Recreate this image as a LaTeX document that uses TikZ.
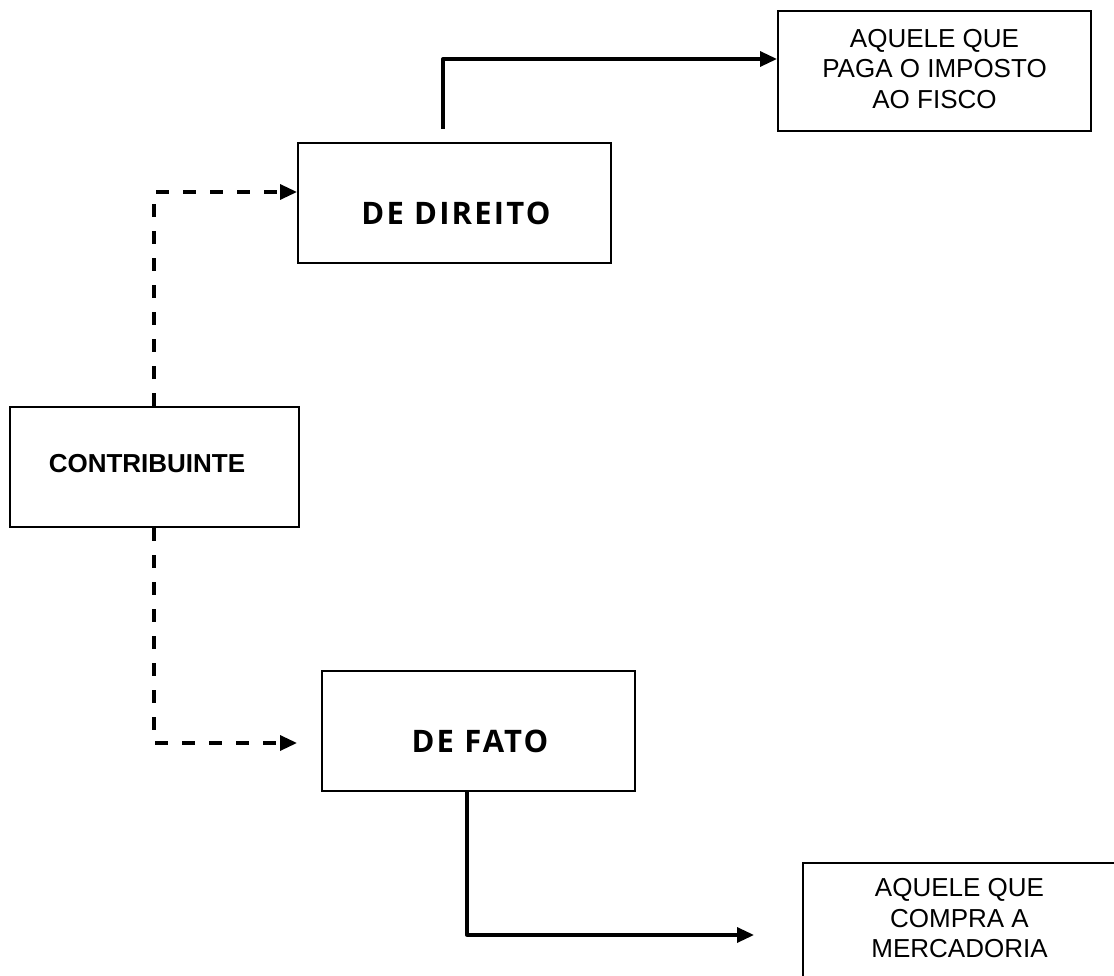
\documentclass[tikz,border=0pt]{standalone}
\usepackage{fontspec}
\setmainfont{Liberation Sans}
\newfontfamily\headfont[LetterSpace=7]{Open Sans}
\usetikzlibrary{arrows.meta,positioning,calc}
\tikzset{
  box/.style={draw, line width=2pt, minimum height=120pt, inner sep=0pt, anchor=center},
  txt/.style={font=\fontsize{26}{30.5}\selectfont, align=center},
  head/.style={font=\headfont\bfseries\fontsize{31}{34}\selectfont},
  conn/.style={line width=3.3pt, line join=round, -{Triangle[length=17pt,width=15pt]}},
  dconn/.style={conn, dash pattern=on 13pt off 14pt},
}
\begin{document}
\begin{tikzpicture}[x=1pt,y=1pt]
\useasboundingbox (0,0) rectangle (1114,-976);
% boxes
\node[box, minimum width=313pt] (topbox) at (934.5,-71) {};
\node[txt] (toptxt) at (934.5,-69) {AQUELE QUE\\PAGA O IMPOSTO\\AO FISCO};
\node[box, minimum width=313pt] (direito) at (454.5,-203) {};
\node[head] (direitotxt) at (456,-213) {DE DIREITO};
\node[box, minimum width=289pt] (contrib) at (154.5,-467) {};
\node[txt, font=\bfseries\fontsize{26}{30.5}\selectfont] (contribtxt) at (147,-464) {CONTRIBUINTE};
\node[box, minimum width=313pt] (fato) at (478.5,-731) {};
\node[head] (fatotxt) at (480,-741.5) {DE FATO};
\node[box, minimum width=313pt] (botbox) at (959.5,-923) {};
\node[txt] (bottxt) at (959.5,-918.5) {AQUELE QUE\\COMPRA A\\MERCADORIA};
% connector points
\coordinate (dirin) at ([yshift=11pt]direito.west);
\coordinate (fatoin) at ([xshift=-24pt,yshift=-12pt]fato.west);
\coordinate (dirout) at ([xshift=-11.5pt,yshift=13pt]direito.north);
\coordinate (topin) at ([yshift=12pt]topbox.west);
\coordinate (fatoout) at ([xshift=-11.5pt]fato.south);
\coordinate (botin) at ([xshift=-48pt,yshift=-12pt]botbox.west);
% connectors
\draw[dconn] ([xshift=-0.5pt]contrib.north) |- (dirin);
\draw[dconn] ([xshift=-0.5pt]contrib.south) |- (fatoin);
\draw[conn] (dirout) |- (topin);
\draw[conn] (fatoout) |- (botin);
\end{tikzpicture}
\end{document}
